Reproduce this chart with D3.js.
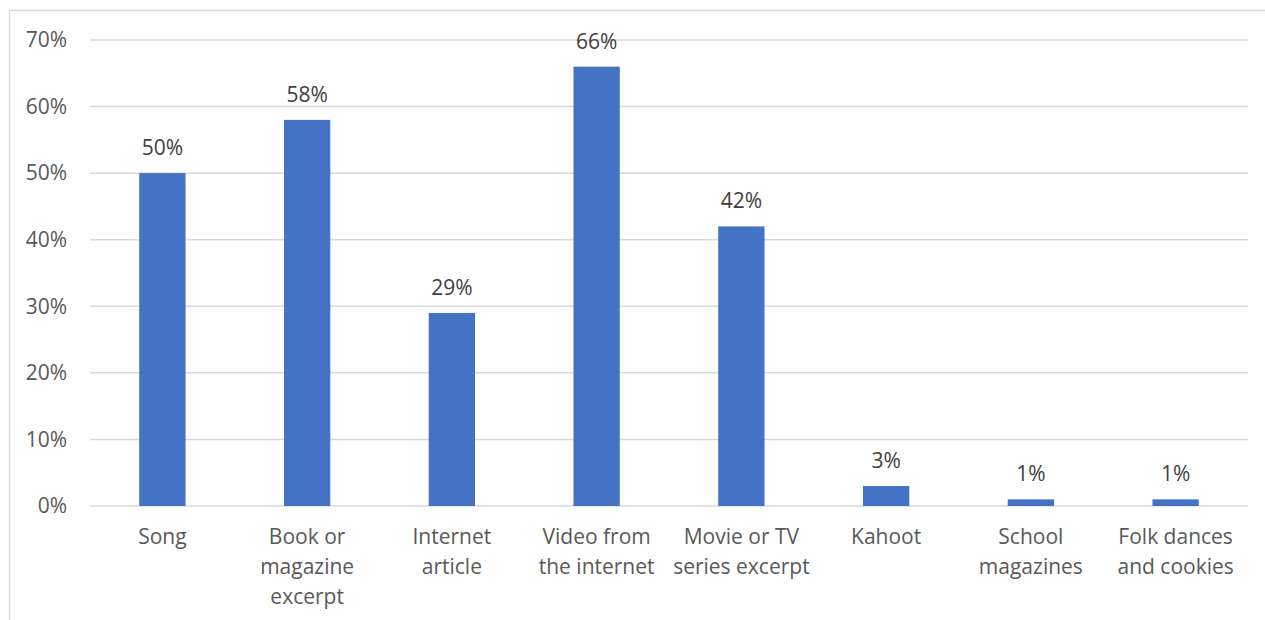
<!DOCTYPE html>
<html>
<head>
<meta charset="utf-8">
<script src="https://cdn.jsdelivr.net/npm/d3@7"></script>
<style>
  html, body { margin: 0; padding: 0; background: #fff; }
  svg { display: block; font-family: "Open Sans", Lato, sans-serif; }
</style>
</head>
<body>
<svg id="chart" width="1265" height="620"></svg>
<script>
// Share of respondents by material type
const categories = [
  ["Song"],
  ["Book or", "magazine", "excerpt"],
  ["Internet", "article"],
  ["Video from", "the internet"],
  ["Movie or TV", "series excerpt"],
  ["Kahoot"],
  ["School", "magazines"],
  ["Folk dances", "and cookies"]
];
const values = [50, 58, 29, 66, 42, 3, 1, 1];
const yTicks = [0, 10, 20, 30, 40, 50, 60, 70];

const FONT = "'Open Sans', Lato, sans-serif";
const FS = 21;

const svg = d3.select("#chart");
const plot = { left: 90, right: 1248, top: 40, bottom: 506 };

// outer frame
svg.append("rect")
  .attr("x", 9.5).attr("y", 10.5)
  .attr("width", 1265).attr("height", 630)
  .attr("fill", "none").attr("stroke", "#d9d9d9").attr("stroke-width", 1.5);

const x = d3.scaleBand()
  .domain(d3.range(categories.length))
  .range([plot.left, plot.right])
  .paddingInner(0.68).paddingOuter(0.34);

const y = d3.scaleLinear().domain([0, 70]).range([plot.bottom, plot.top]);

// gridlines
svg.append("g")
  .selectAll("line").data(yTicks).join("line")
  .attr("x1", plot.left).attr("x2", plot.right)
  .attr("y1", d => y(d)).attr("y2", d => y(d))
  .attr("stroke", "#d9d9d9").attr("stroke-width", 1.5);

// y axis labels
const yAxis = d3.axisLeft(y).tickValues(yTicks).tickFormat(d => d + "%").tickSize(0).tickPadding(23);
const gy = svg.append("g").attr("transform", `translate(${plot.left},0)`).call(yAxis);
gy.select(".domain").remove();
gy.selectAll("text").attr("font-size", FS).attr("fill", "#595959")
  .attr("font-family", FONT);

// bars
svg.append("g").selectAll("rect").data(values).join("rect")
  .attr("x", (d, i) => x(i))
  .attr("width", x.bandwidth())
  .attr("y", d => y(d))
  .attr("height", d => y(0) - y(d))
  .attr("fill", "#4472c4");

// value labels
svg.append("g").selectAll("text").data(values).join("text")
  .attr("x", (d, i) => x(i) + x.bandwidth() / 2)
  .attr("y", d => y(d) - 18)
  .attr("text-anchor", "middle")
  .attr("font-size", FS).attr("fill", "#404040")
  .text(d => d + "%");

// category labels
const cat = svg.append("g").selectAll("text").data(categories).join("text")
  .attr("x", (d, i) => x(i) + x.bandwidth() / 2)
  .attr("y", 544)
  .attr("text-anchor", "middle")
  .attr("font-size", FS).attr("fill", "#595959");
cat.selectAll("tspan").data(d => d).join("tspan")
  .attr("x", function() { return d3.select(this.parentNode).attr("x"); })
  .attr("dy", (d, i) => i === 0 ? 0 : 30)
  .text(d => d);
</script>
</body>
</html>
